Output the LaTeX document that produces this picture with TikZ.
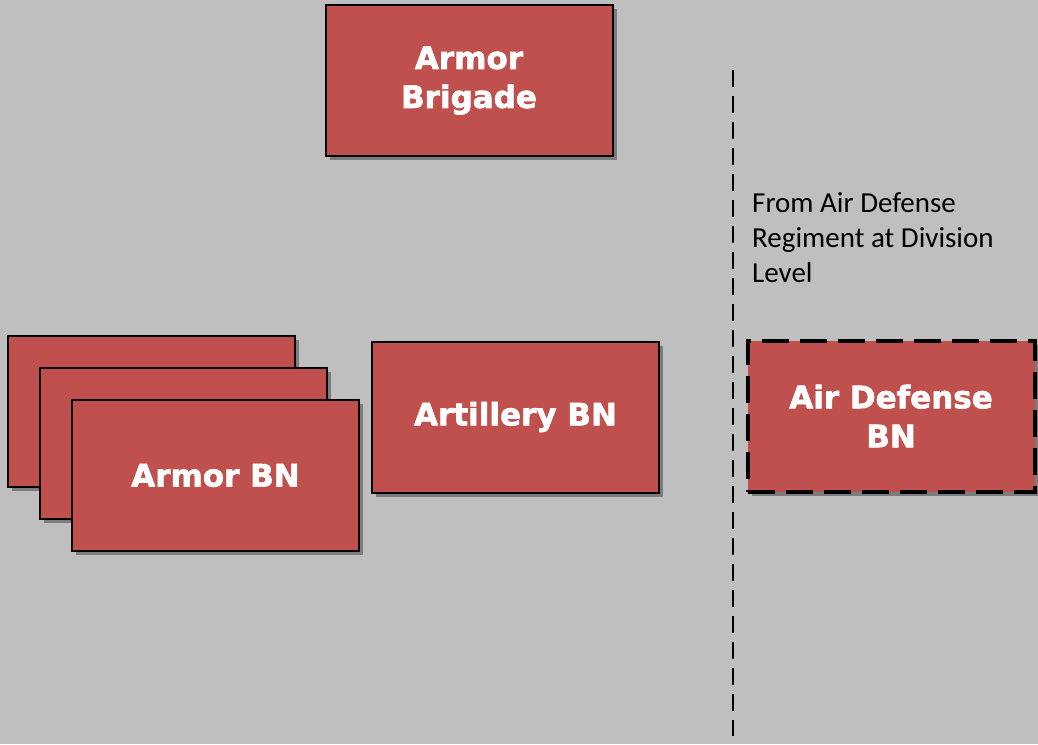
\documentclass[tikz,border=0pt]{standalone}
\usepackage{fontspec}
\setmainfont{Carlito}
\newfontfamily\boxfont{DejaVu Sans}[BoldFeatures={FakeBold=2}]
\usetikzlibrary{shadows,positioning}
\definecolor{bg}{HTML}{BFBFBF}
\definecolor{unitred}{HTML}{C0504D}
\tikzset{
  unit/.style={draw=black, line width=2pt, fill=unitred, minimum width=287pt, minimum height=151pt,
    inner sep=0pt, text=white, align=center, font=\boxfont\bfseries\fontsize{31}{39}\selectfont,
    drop shadow={shadow xshift=4pt, shadow yshift=-4pt, fill=black, opacity=0.35}},
  attached/.style={unit, line width=4pt, dash pattern=on 27pt off 11pt},
  divider/.style={draw=black, line width=2pt, dash pattern=on 17pt off 9pt},
  note/.style={align=left, anchor=north west, inner sep=0pt, font=\fontsize{29}{35}\selectfont}
}
\begin{document}
\begin{tikzpicture}[x=1pt,y=-1pt]
\fill[bg] (0,0) rectangle (1038,744);
\useasboundingbox (0,0) rectangle (1038,744);
\node[unit] (brigade) at (469,80.5) {Armor\\Brigade};
\node[unit] (bn1) at (151.5,411.5) {};
\node[unit] (bn2) at (183.5,443.5) {};
\node[unit] (armorbn) at (215.5,475.5) {Armor BN};
\node[unit] (artillery) at (515.5,417) {Artillery BN};
\node[attached] (airdef) at (891,416) {Air Defense\\BN};
\coordinate (divtop) at (733,70);
\coordinate (divbot) at (733,736);
\draw[divider] (divtop) -- (divbot);
\node[note] (fromnote) at (752,192) {From Air Defense\\Regiment at Division\\Level};
\end{tikzpicture}
\end{document}
